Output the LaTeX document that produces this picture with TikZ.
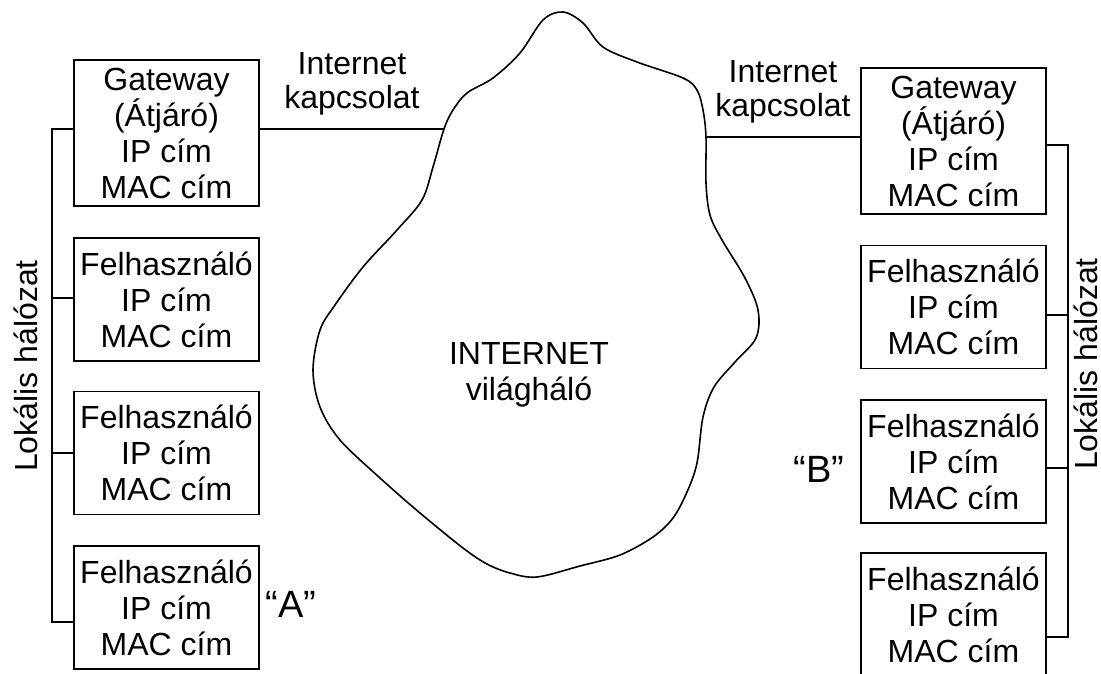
\documentclass[tikz,border=0pt]{standalone}
\usepackage{fontspec}
\setmainfont{Liberation Sans}
\begin{document}
\begin{tikzpicture}[x=1pt,y=-1pt,
  every node/.style={font=\fontsize{32}{36}\selectfont, inner sep=0pt, align=center},
  hostbox/.style={draw, line width=1.6pt, minimum width=185pt},
  gwbox/.style={hostbox, minimum height=146pt},
  userbox/.style={hostbox, minimum height=123pt},
  wire/.style={line width=1.6pt},
  tag/.style={font=\fontsize{38}{40}\selectfont},
  label/.style={font=\fontsize{32}{34}\selectfont}]
\useasboundingbox (0,0) rectangle (1101,673);

% network cloud
\draw[line width=1.6pt] plot[smooth cycle, tension=0.55] coordinates {
  (563,12) (583,23) (603,47) (637,62) (683,78) (697,90) (703,110) (706,137)
  (706,183) (710,215) (722,240) (745,278) (758,310) (756,338) (735,362)
  (714,387) (703,417) (697,463) (687,492) (673,518) (653,537) (620,555)
  (580,566) (537,577) (510,573) (487,564) (463,548) (420,513) (380,478)
  (340,440) (320,407) (313,370) (320,330) (335,305) (363,267) (397,230)
  (422,200) (433,167) (444,129) (453,110) (467,93) (493,78) (520,53) (543,20)};
\node (net) at (529,375) {INTERNET\\világháló};
\coordinate (cloudL) at (444,129);
\coordinate (cloudR) at (706,137);

% left local network "A"
\node[gwbox]   (gl) at (166.5,133)   {Gateway\\(Átjáró)\\IP cím\\MAC cím};
\node[userbox] (l1) at (166.5,299.5) {Felhasználó\\IP cím\\MAC cím};
\node[userbox] (l2) at (166.5,453)   {Felhasználó\\IP cím\\MAC cím};
\node[userbox] (l3) at (166.5,607.5) {Felhasználó\\IP cím\\MAC cím};
\node[tag] (ta) at (291,604) {“A”};
\node[rotate=90] (lanl) at (26,366) {Lokális hálózat};
\node[label] (netl) at (352,84) {Internet\\kapcsolat};

\coordinate (la) at (52,129);
\coordinate (lb) at (52,298);
\coordinate (lc) at (52,453);
\coordinate (ld) at (52,622);
\draw[wire] (la -| gl.west) -- (la) -- (ld) -- (ld -| l3.west);
\draw[wire] (lb) -- (lb -| l1.west);
\draw[wire] (lc) -- (lc -| l2.west);
\draw[wire] (cloudL -| gl.east) -- (cloudL);

% right local network "B"
\node[gwbox]   (gr) at (953.5,141)   {Gateway\\(Átjáró)\\IP cím\\MAC cím};
\node[userbox] (r1) at (953.5,307)   {Felhasználó\\IP cím\\MAC cím};
\node[userbox] (r2) at (953.5,461.5) {Felhasználó\\IP cím\\MAC cím};
\node[userbox] (r3) at (953.5,614.5) {Felhasználó\\IP cím\\MAC cím};
\node[tag] (tb) at (819,469) {“B”};
\node[rotate=90] (lanr) at (1086,364) {Lokális hálózat};
\node[label] (netr) at (783,92) {Internet\\kapcsolat};

\coordinate (ra) at (1068,145);
\coordinate (rb) at (1068,315);
\coordinate (rc) at (1068,468);
\coordinate (rd) at (1068,637);
\draw[wire] (ra -| gr.east) -- (ra) -- (rd) -- (rd -| r3.east);
\draw[wire] (rb) -- (rb -| r1.east);
\draw[wire] (rc) -- (rc -| r2.east);
\draw[wire] (cloudR) -- (cloudR -| gr.west);
\end{tikzpicture}
\end{document}
